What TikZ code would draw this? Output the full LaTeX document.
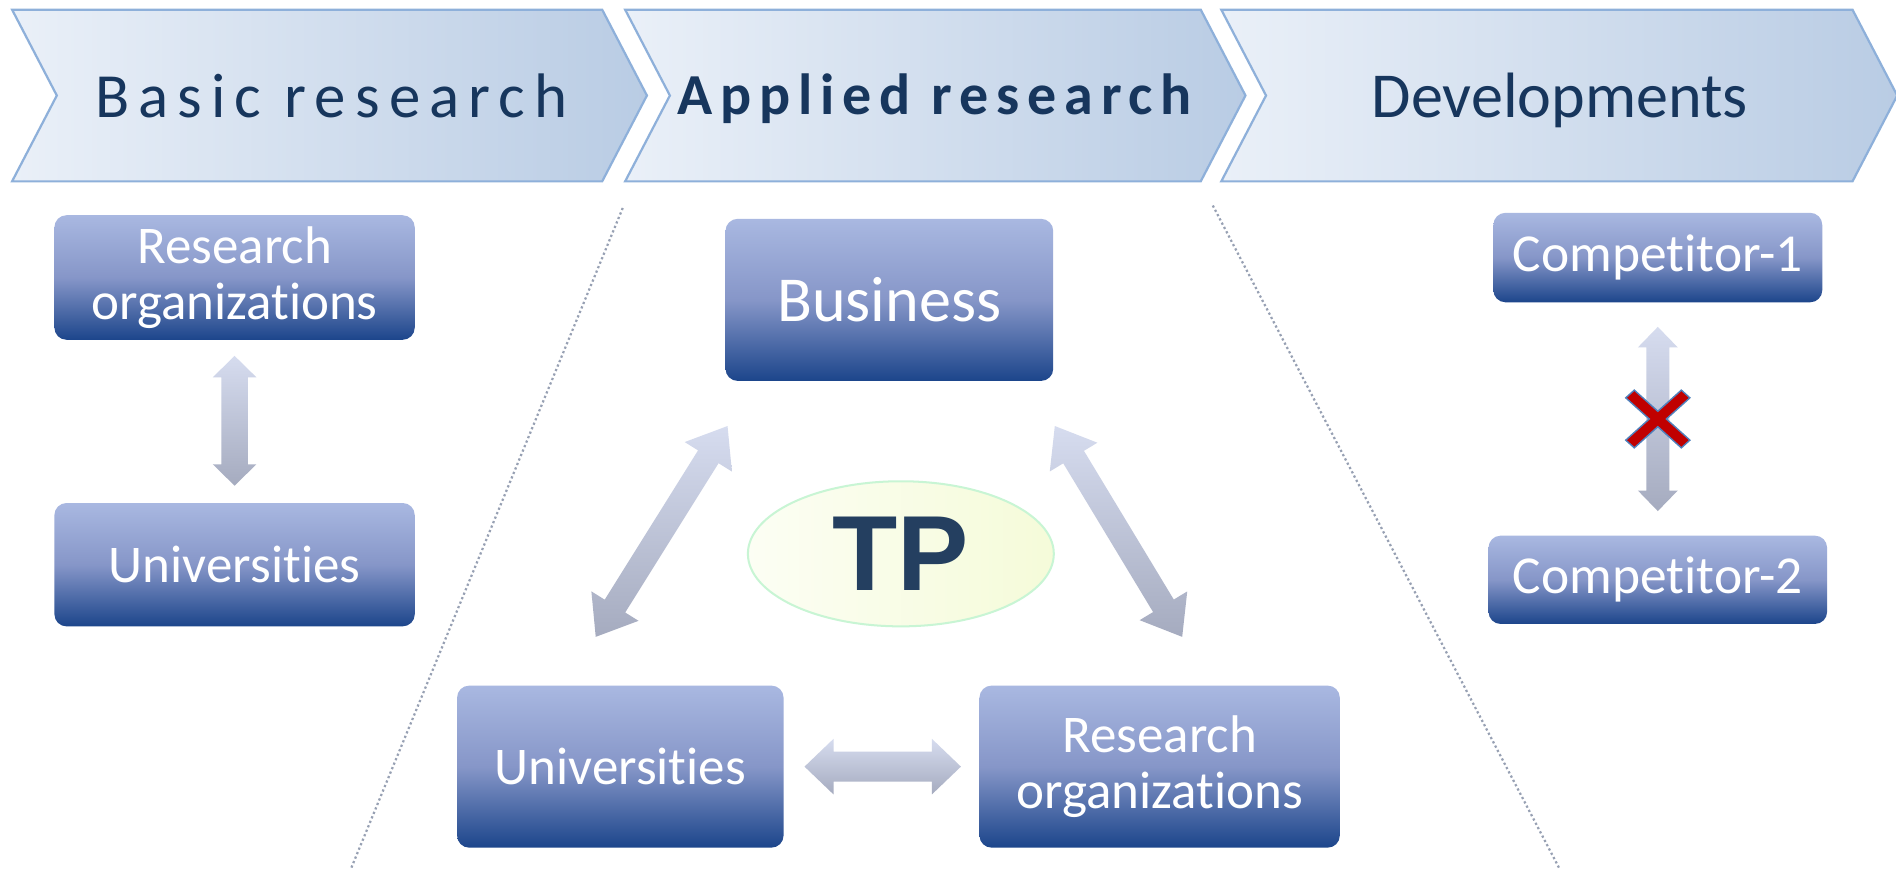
\documentclass[tikz,border=0pt]{standalone}
\usepackage{fontspec}
\setmainfont{Carlito}[Ligatures={NoCommon,NoContextual}]
\newfontfamily\tpfont{Liberation Sans}
\usetikzlibrary{calc,shapes.geometric}

\definecolor{chevLeft}{HTML}{EAF0F8}
\definecolor{chevRight}{HTML}{B9CCE4}
\definecolor{chevLine}{HTML}{8EB0DA}
\definecolor{chevText}{HTML}{17365D}
\definecolor{boxTop}{HTML}{A9B8E1}
\definecolor{boxMid}{HTML}{8696C8}
\definecolor{boxBot}{HTML}{1C458B}
\definecolor{arrTop}{HTML}{D6DCEF}
\definecolor{arrBot}{HTML}{A5ABBF}
\definecolor{tpLeft}{HTML}{FCFEF4}
\definecolor{tpRight}{HTML}{F5FBD9}
\definecolor{tpLine}{HTML}{C8F5D4}
\definecolor{tpText}{HTML}{243F60}
\definecolor{crossRed}{HTML}{C00000}
\definecolor{crossLine}{HTML}{4F81BD}
\definecolor{sepGray}{HTML}{97A0B3}

\tikzset{
  chevshape/.style={left color=chevLeft, right color=chevRight, draw=chevLine, line width=1.1pt},
  chevtext/.style={anchor=base, text=chevText, inner sep=0pt, font=\fontsize{31.2}{36}\selectfont},
  box/.style={rounded corners=6pt, top color=boxTop, bottom color=boxBot, middle color=boxMid,
    text=white, inner sep=0pt, align=center, font=\fontsize{26.3}{27.6}\selectfont},
  fatarr/.style={top color=arrTop, bottom color=arrBot},
  tpell/.style={ellipse, left color=tpLeft, right color=tpRight, draw=tpLine, line width=1pt,
    inner sep=0pt, text=tpText, font=\tpfont\bfseries\fontsize{53}{53}\selectfont},
  sepline/.style={draw=sepGray, line width=1.1pt, dash pattern=on 1.1pt off 1.3pt},
  crossmark/.style={fill=crossRed, draw=crossLine, line width=0.7pt, line join=miter}
}

% chevron: left x, right-top x, tip x, notch x
\newcommand\chevronshape[4]{%
  \path[chevshape] (#1,8) -- (#2,8) -- (#3,79) -- (#2,150) -- (#1,150) -- (#4,79) -- cycle;}

% double-headed block arrow between two named coordinates:
% start, end, half shaft width, half head width, head length
\newcommand\fatarrow[5]{%
  \coordinate (ha) at ($(#1)!#5!(#2)$);
  \coordinate (hb) at ($(#2)!#5!(#1)$);
  \path[fatarr] (#1) -- ($(ha)!#4!90:(#2)$) -- ($(ha)!#3!90:(#2)$)
    -- ($(hb)!#3!-90:(#1)$) -- ($(hb)!#4!-90:(#1)$) -- (#2)
    -- ($(hb)!#4!90:(#1)$) -- ($(hb)!#3!90:(#1)$)
    -- ($(ha)!#3!-90:(#2)$) -- ($(ha)!#4!-90:(#2)$) -- cycle;}

\begin{document}
\begin{tikzpicture}[x=0.6pt,y=-0.6pt]
\useasboundingbox (0,0) rectangle (1568,719);
\fill[white] (0,0) rectangle (1568,719);

% stage chevrons
\chevronshape{10}{498}{535}{47}
\chevronshape{517}{993}{1030}{554}
\chevronshape{1010}{1532}{1569}{1047}
\node[chevtext] (stage1) at (274,97) {\addfontfeature{LetterSpace=14.5}Basic research};
\node[chevtext, font=\bfseries\fontsize{28.8}{34}\selectfont] (stage2) at (773,95) {\addfontfeature{LetterSpace=13.5}Applied research};
\node[chevtext, font=\fontsize{31.8}{36}\selectfont] (stage3) at (1290,97) {Developments};

% separators
\draw[sepline] (515,172) -- (290,719);
\draw[sepline] (1003,170) -- (1290,719);

% basic research column
\node[box, minimum width=178.8pt, minimum height=61.8pt] (ro1) at (194,229.5) {Research\\organizations};
\node[box, minimum width=178.8pt, minimum height=61.2pt] (un1) at (194,467) {Universities};

% applied research triangle
\node[box, minimum width=162.6pt, minimum height=80.4pt, font=\fontsize{31.8}{34}\selectfont] (biz) at (735.5,248) {Business};
\node[box, minimum width=162pt, minimum height=80.4pt] (un2) at (513,634) {Universities};
\node[box, minimum width=178.8pt, minimum height=80.4pt] (ro2) at (959,634) {Research\\organizations};
\node[tpell, minimum width=151.8pt, minimum height=72pt] (tp) at (745,458) {TP};

% developments column
\node[box, minimum width=163.2pt, minimum height=44.4pt, font=\fontsize{26.5}{28}\selectfont] (cp1) at (1371,213) {Competitor-1};
\node[box, minimum width=168pt, minimum height=43.8pt, font=\fontsize{26.5}{28}\selectfont] (cp2) at (1371,479.5) {Competitor-2};

% connectors
\coordinate (a1s) at ($(ro1.south)+(0,13)$);
\coordinate (a1e) at ($(un1.north)+(0,-14)$);
\fatarrow{a1s}{a1e}{6.6pt}{10.8pt}{10.6pt}

\coordinate (a2s) at ($(biz.south west)+(2,37)$);
\coordinate (a2e) at ($(un2.north west)+(115,-40)$);
\fatarrow{a2s}{a2e}{6pt}{13.8pt}{18pt}

\coordinate (a3s) at ($(biz.south east)+(1,37)$);
\coordinate (a3e) at ($(ro2.north west)+(168,-40)$);
\fatarrow{a3s}{a3e}{6pt}{13.8pt}{18pt}

\coordinate (a4s) at ($(un2.east)+(17,0)$);
\coordinate (a4e) at ($(ro2.west)+(-15,0)$);
\fatarrow{a4s}{a4e}{7.4pt}{13.8pt}{14.4pt}

\coordinate (a5s) at ($(cp1.south)+(0,20)$);
\coordinate (a5e) at ($(cp2.north)+(0,-20)$);
\fatarrow{a5s}{a5e}{5.7pt}{9.9pt}{10.2pt}

% the blocked link between competitors
\coordinate (xm) at ($(a5s)!0.5!(a5e)$);
\begin{scope}[shift={(xm)}, yscale=0.9, rotate=45]
  \path[crossmark] (5,5) -- (32.5,5) -- (32.5,-5) -- (5,-5) -- (5,-32.5) -- (-5,-32.5)
    -- (-5,-5) -- (-32.5,-5) -- (-32.5,5) -- (-5,5) -- (-5,32.5) -- (5,32.5) -- cycle;
\end{scope}
\end{tikzpicture}
\end{document}
